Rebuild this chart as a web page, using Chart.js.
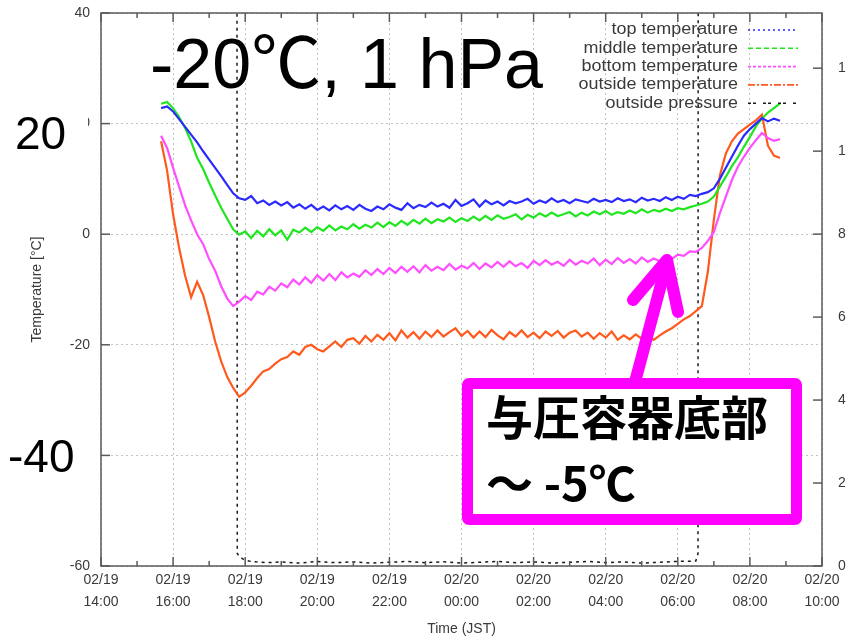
<!DOCTYPE html>
<html>
<head>
<meta charset="utf-8">
<title>Temperature log</title>
<script src="https://cdn.jsdelivr.net/npm/chart.js@4.4.1/dist/chart.umd.min.js"></script>
<style>
  html, body { margin: 0; padding: 0; background: #fff; width: 846px; height: 641px; overflow: hidden; }
  #wrap { position: relative; width: 870px; height: 641px; }
  canvas { display: block; }
  .note { position: absolute; white-space: nowrap; color: #000; line-height: 1; }
  .sans { font-family: "Liberation Sans", Arial, "Noto Sans CJK JP", sans-serif; }
  .mask { background: #fff; }
  #callout {
    position: absolute; left: 462px; top: 378px; width: 340px; height: 147px;
    box-sizing: border-box; border: 11px solid #ff00ff; border-radius: 7px; background: #fff;
  }
  .jp { font-family: "Noto Sans CJK JP", sans-serif; font-weight: 700; font-size: 47px; line-height: 47px; }
  svg { position: absolute; left: 0; top: 0; pointer-events: none; }
</style>
</head>
<body>
<div id="wrap">
  <canvas id="chart" width="870" height="641"></canvas>

  <!-- pasted-on labels -->
  <div class="note sans" style="left:150px; top:29px; font-size:70px;">-20℃, 1 hPa</div>
  <div class="note sans mask" style="left:0; top:110px; width:88px; height:46px; font-size:46px; line-height:46px; padding-left:15px; box-sizing:border-box;">20</div>
  <div class="note sans mask" style="left:0; top:433px; width:90px; height:46px; font-size:46px; line-height:46px; padding-left:8px; box-sizing:border-box;">-40</div>

  <div id="callout"></div>
  <div class="note jp" style="left:486px; top:391px;">与圧容器底部</div>
  <div class="note jp" style="left:486px; top:457px;">～ -5℃</div>

  <svg width="846" height="641">
    <g stroke="#ff00ff" stroke-width="12" stroke-linecap="round" stroke-linejoin="round" fill="none">
      <path d="M635 382 L667 262"/>
      <path d="M633 300 L667 260 L678 312"/>
    </g>
  </svg>
</div>

<script>
// sampled every 10 min, 02/19 15:40 -> 02/20 08:50 (hours since 02/19 00:00)
const sampleStart = 15 + 40 / 60;
const times = [];
for (let i = 0; i < 104; i++) times.push(sampleStart + i / 6);

const topTemp = [
  22.8, 23.1, 22.2, 20.8, 19.4, 18.0, 16.6, 15.0, 13.5, 12.0,
  10.5, 8.9, 7.4, 6.5, 6.2, 6.9, 5.6, 6.1, 5.3, 5.9,
  5.2, 5.8, 4.8, 5.4, 4.6, 5.3, 4.4, 5.0, 4.3, 5.2,
  4.5, 5.1, 4.4, 5.3, 4.6, 4.2, 5.0, 4.5, 5.4, 4.8,
  4.4, 5.6, 4.7, 5.3, 4.9, 5.7, 5.0, 5.5, 4.8, 6.2,
  5.1, 5.6, 6.3, 5.0, 6.1, 5.4, 5.9, 5.2, 6.0, 5.6,
  5.9, 6.4, 5.5, 6.1, 5.7, 6.5, 5.8, 6.2, 5.6, 6.3,
  6.0, 5.7, 6.4, 5.9, 6.2, 5.8, 6.5, 6.0, 6.3, 5.8,
  6.6, 6.1, 6.4, 6.0, 6.7, 6.2, 6.8, 6.4, 7.1, 6.9,
  7.3, 7.6, 8.3, 10.0, 12.0, 14.0, 16.0, 17.8, 19.0, 20.0,
  21.0, 20.4, 20.9, 20.5
];
const middleTemp = [
  23.6, 23.9, 22.8, 21.2, 19.2, 16.8, 13.8, 11.8, 9.3, 7.0,
  4.8, 2.8, 0.9, -0.1, 0.5, -0.7, 0.6, -0.4, 0.9, -0.2,
  0.7, -1.0, 0.8, 0.3, 1.2, 0.4, 1.3, 0.6, 1.6, 0.7,
  1.4, 0.9, 1.8, 1.0, 1.7, 1.2, 2.1, 1.3, 2.2, 1.5,
  2.4, 1.7, 2.6, 1.9, 2.8, 2.0, 2.7, 2.3, 3.0, 2.2,
  2.9, 2.4, 3.2, 2.5, 3.3, 2.6, 3.4, 2.8, 3.1, 3.6,
  2.7, 3.5, 3.0, 3.8, 3.2, 3.9, 3.3, 3.6, 4.0, 3.2,
  3.9, 3.4, 4.1, 3.6, 4.2, 3.5, 4.0, 3.7, 4.3, 3.8,
  4.5, 3.9, 4.4, 4.1, 4.6, 4.2, 4.7, 4.5, 4.9, 5.2,
  5.5, 5.9, 6.8, 8.6, 10.4, 12.3, 13.9, 15.8, 17.6, 19.5,
  20.9, 22.0, 22.8, 23.6
];
const bottomTemp = [
  17.8, 15.6, 12.0, 8.6, 5.2, 2.5, 0.0, -1.8, -4.5, -6.6,
  -9.4, -11.6, -13.0, -12.2, -11.2, -11.9, -10.4, -10.9, -9.5, -10.2,
  -8.9, -9.6, -8.2, -9.1, -7.8, -8.8, -7.4, -8.4, -7.2, -8.3,
  -6.9, -7.8, -7.1, -7.7, -6.5, -7.4, -6.3, -7.2, -6.1, -7.0,
  -5.9, -6.8, -5.8, -6.9, -5.6, -6.6, -5.9, -6.5, -5.4, -6.4,
  -5.7, -6.2, -5.2, -6.3, -5.3, -6.0, -5.0, -5.9, -4.9, -5.8,
  -5.2, -6.1, -4.8, -5.6, -4.7, -5.5, -5.0, -5.7, -4.6, -5.5,
  -4.8, -5.3, -4.4, -5.6, -4.6, -5.4, -4.3, -5.2, -4.5, -5.3,
  -4.2, -5.0, -4.4, -4.9, -4.1, -4.5, -3.7, -3.9, -3.1, -3.2,
  -2.5, -1.2, 0.4, 3.8, 6.8, 9.8, 12.2, 14.0, 15.6, 17.0,
  18.3, 17.4, 16.9, 17.2
];
const outsideTemp = [
  16.8, 11.5, 3.6, -2.5, -7.5, -11.4, -8.6, -11.0, -15.0, -19.4,
  -23.0, -25.8, -27.8, -29.4, -28.6, -27.4, -26.0, -24.8, -24.4, -23.4,
  -22.6, -22.2, -21.2, -21.8, -20.4, -20.0, -20.8, -21.2, -20.3, -19.4,
  -20.4, -19.1, -18.8, -19.8, -18.4, -19.4, -18.2, -19.1, -17.9, -19.2,
  -17.4, -18.7, -17.7, -18.9, -17.6, -18.6, -17.4, -18.5, -17.7, -17.0,
  -18.4, -17.5, -18.7, -17.6, -18.6, -17.3, -18.3, -19.0, -17.7, -18.5,
  -17.4, -18.6, -17.8, -18.8, -17.6, -18.4, -17.5, -18.7, -17.8, -17.4,
  -18.5, -17.8, -18.9, -17.9, -18.7, -17.6, -19.1, -18.3, -19.0, -18.1,
  -18.9, -18.5, -19.1, -18.3, -17.6, -17.0, -16.2, -15.4, -14.8, -13.9,
  -13.0, -6.8, 2.6, 10.6, 14.6, 16.8, 18.2, 19.0, 19.8, 20.6,
  21.6, 16.0, 14.2, 13.8
];

// outside pressure has its own sample times (off scale = ambient)
const pressureTimes = [
  15.67, 17.72, 17.78, 17.85, 17.95, 18.10, 18.30, 18.60, 19.00, 19.50,
  20.00, 20.50, 21.00, 21.50, 22.00, 22.50, 23.00, 23.50, 24.00, 24.50,
  25.00, 25.50, 26.00, 26.50, 27.00, 27.50, 28.00, 28.50, 29.00, 29.50,
  30.00, 30.50, 30.56, 30.60, 32.83
];
const outsidePressure = [
  101.3, 101.3, 0.30, 0.22, 0.16, 0.12, 0.10, 0.08, 0.10, 0.07,
  0.11, 0.08, 0.10, 0.07, 0.09, 0.11, 0.08, 0.10, 0.07, 0.09,
  0.11, 0.08, 0.10, 0.07, 0.09, 0.11, 0.08, 0.10, 0.07, 0.09,
  0.11, 0.12, 0.30, 101.3, 101.3
];

const seriesNames = ['top temperature', 'middle temperature', 'bottom temperature', 'outside temperature', 'outside pressure'];
const seriesColors = ['#2a2aff', '#1fe61f', '#ff4dff', '#ff5a1e', '#1a1a1a'];
const keyDashes = [[2, 3], [5, 3], [3, 2], [7, 2, 2, 2], [3, 2, 3, 7]];

const tickDates = ['02/19', '02/19', '02/19', '02/19', '02/19', '02/20', '02/20', '02/20', '02/20', '02/20', '02/20'];
const tickTimes = ['14:00', '16:00', '18:00', '20:00', '22:00', '00:00', '02:00', '04:00', '06:00', '08:00', '10:00'];

const pts = (xs, ys) => ys.map((v, i) => ({ x: xs[i], y: v }));
const tempSeries = [topTemp, middleTemp, bottomTemp, outsideTemp];

const textFont = '"Liberation Sans", Arial, sans-serif';
const inkGray = '#3a3a3a';

// gnuplot-like frame with inward ticks
const frame = {
  id: 'frame',
  afterDatasetsDraw(chart) {
    const { ctx, chartArea: a, scales } = chart;
    const seg = (x1, y1, x2, y2) => { ctx.beginPath(); ctx.moveTo(x1, y1); ctx.lineTo(x2, y2); ctx.stroke(); };
    ctx.save();
    ctx.strokeStyle = '#5a5a5a';
    ctx.lineWidth = 1.5;
    for (let h = 14; h <= 34; h++) {
      const px = scales.x.getPixelForValue(h);
      const len = h % 2 === 0 ? 9 : 5;
      seg(px, a.bottom, px, a.bottom - len);
      seg(px, a.top, px, a.top + len);
    }
    scales.y.ticks.forEach(t => {
      const py = scales.y.getPixelForValue(t.value);
      seg(a.left, py, a.left + 9, py);
    });
    scales.y2.ticks.forEach(t => {
      const py = scales.y2.getPixelForValue(t.value);
      seg(a.right, py, a.right - 9, py);
    });
    ctx.strokeRect(a.left, a.top, a.right - a.left, a.bottom - a.top);
    ctx.restore();
  }
};

// key in the top-right corner: text right-aligned, sample line after it
const key = {
  id: 'key',
  afterDraw(chart) {
    const { ctx, chartArea: a } = chart;
    ctx.save();
    ctx.font = '16px ' + textFont;
    ctx.textAlign = 'right';
    ctx.textBaseline = 'middle';
    chart.data.datasets.forEach((ds, i) => {
      const y = a.top + 17 + i * 18.3;
      ctx.save();
      ctx.translate(a.right - 84, y);
      ctx.scale(1.12, 1);
      ctx.fillStyle = inkGray;
      ctx.fillText(ds.label, 0, 0);
      ctx.restore();
      ctx.strokeStyle = ds.borderColor;
      ctx.lineWidth = 1.6;
      ctx.setLineDash(keyDashes[i]);
      ctx.beginPath();
      ctx.moveTo(a.right - 74, y);
      ctx.lineTo(a.right - 24, y);
      ctx.stroke();
    });
    ctx.restore();
  }
};

const datasets = tempSeries.map((vals, i) => ({
  label: seriesNames[i],
  data: pts(times, vals),
  borderColor: seriesColors[i],
  borderWidth: 2.2,
  pointRadius: 0,
  tension: 0,
  yAxisID: 'y'
}));
datasets.push({
  label: seriesNames[4],
  data: pts(pressureTimes, outsidePressure),
  borderColor: seriesColors[4],
  borderWidth: 1.5,
  borderDash: [3, 4],
  pointRadius: 0,
  tension: 0,
  yAxisID: 'y2'
});

// fixed box sizes so the plot area sits where the original one does
const fixWidth = w => s => { s.width = w; s.paddingTop = 0; s.paddingBottom = 0; };

new Chart(document.getElementById('chart'), {
  type: 'line',
  data: { datasets },
  options: {
    responsive: false,
    animation: false,
    devicePixelRatio: 1,
    layout: { padding: { top: 13, left: 0, right: 0, bottom: 0 } },
    plugins: { legend: { display: false }, tooltip: { enabled: false } },
    scales: {
      x: {
        type: 'linear', min: 14, max: 34,
        afterFit: s => { s.height = 75; },
        grid: { color: '#c2c2c2', lineWidth: 1, drawTicks: false },
        border: { display: false, dash: [2, 3] },
        ticks: {
          stepSize: 2, autoSkip: false, maxRotation: 0, padding: 3,
          color: inkGray, font: { family: textFont, size: 14, lineHeight: 1.57 },
          callback: (v, i) => [tickDates[i], tickTimes[i]]
        },
        title: { display: true, text: 'Time (JST)', color: inkGray, font: { family: textFont, size: 14 }, padding: { top: 0, bottom: 3 } }
      },
      y: {
        position: 'left', min: -60, max: 40,
        afterFit: fixWidth(101),
        grid: { color: '#c2c2c2', lineWidth: 1, drawTicks: false },
        border: { display: false, dash: [2, 3] },
        ticks: { stepSize: 20, padding: 11, color: inkGray, font: { family: textFont, size: 14 } },
        title: { display: true, text: 'Temperature [°C]', color: inkGray, font: { family: textFont, size: 14 }, padding: { top: 29, bottom: 0 } }
      },
      y2: {
        position: 'right', min: 0, max: 13.33,
        afterFit: fixWidth(48),
        grid: { display: false, drawTicks: false },
        border: { display: false },
        ticks: { stepSize: 2, includeBounds: false, padding: 16, color: inkGray, font: { family: textFont, size: 14 } }
      }
    }
  },
  plugins: [frame, key]
});
</script>
</body>
</html>
